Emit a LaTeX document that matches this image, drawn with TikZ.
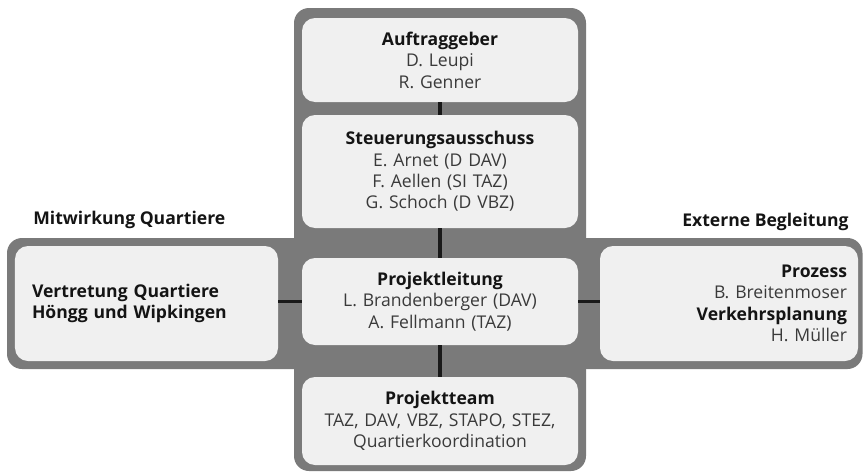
\documentclass[tikz,border=0pt]{standalone}
\usepackage{fontspec}
\setmainfont{Open Sans}
\usepackage{xcolor}
\usepackage{tikz}
\usetikzlibrary{calc}
\definecolor{bandgray}{HTML}{7A7A7A}
\definecolor{boxgray}{HTML}{F0F0F0}
\definecolor{namegray}{HTML}{3A3A3A}
\definecolor{headblack}{HTML}{141414}
\newcommand{\head}[1]{{\bfseries\color{headblack}#1}}

\begin{document}
\begin{tikzpicture}[font=\fontsize{10}{12.2}\selectfont,
  band/.style={fill=bandgray, rounded corners=0.3cm},
  unit/.style={fill=boxgray, rounded corners=0.26cm, inner sep=0pt, text=namegray},
  midunit/.style={unit, minimum width=5.52cm, text width=5.2cm, align=center},
  sideunit/.style={unit, minimum height=2.3cm},
  link/.style={line width=2pt, black!90}]
  \useasboundingbox (0,0) rectangle (17.26,-9.44);
  \fill[band] (5.88,-0.16) rectangle (11.72,-9.42);
  \fill[band] (0.14,-4.76) rectangle (17.25,-7.38);
  \node[midunit, minimum height=1.68cm] (auftrag) at (8.8,-1.2)
    {\head{Auftraggeber}\\D. Leupi\\R. Genner};
  \node[midunit, minimum height=2.26cm] (steuer) at (8.8,-3.43)
    {\head{Steuerungsausschuss}\\E. Arnet (D DAV)\\F. Aellen (SI TAZ)\\G. Schoch (D VBZ)};
  \node[midunit, minimum height=1.74cm] (leitung) at (8.8,-6.03)
    {\head{Projektleitung}\\L. Brandenberger (DAV)\\A. Fellmann (TAZ)};
  \node[midunit, minimum height=1.76cm] (team) at (8.8,-8.42)
    {\head{Projektteam}\\TAZ, DAV, VBZ, STAPO, STEZ,\\Quartierkoordination};
  \node[sideunit, inner xsep=0.34cm, text width=4.58cm, align=left] (quartier) at (2.93,-6.07)
    {\head{Vertretung Quartiere}\\\head{Höngg und Wipkingen}};
  \node[sideunit, inner xsep=0.22cm, text width=4.72cm, align=right] (extern) at (14.58,-6.07)
    {\head{Prozess}\\B. Breitenmoser\\\head{Verkehrsplanung}\\H. Müller};
  \node[anchor=west, inner sep=0pt] (mitwirkung) at (0.66,-4.4) {\head{Mitwirkung Quartiere}};
  \node[anchor=east, inner sep=0pt] (begleitung) at (16.98,-4.44) {\head{Externe Begleitung}};
  \draw[link] (auftrag) -- (steuer);
  \draw[link] (steuer) -- (leitung);
  \draw[link] (leitung) -- (team);
  \draw[link] (leitung.west) -- (leitung.west -| quartier.east);
  \draw[link] (leitung.east) -- (leitung.east -| extern.west);
\end{tikzpicture}
\end{document}
